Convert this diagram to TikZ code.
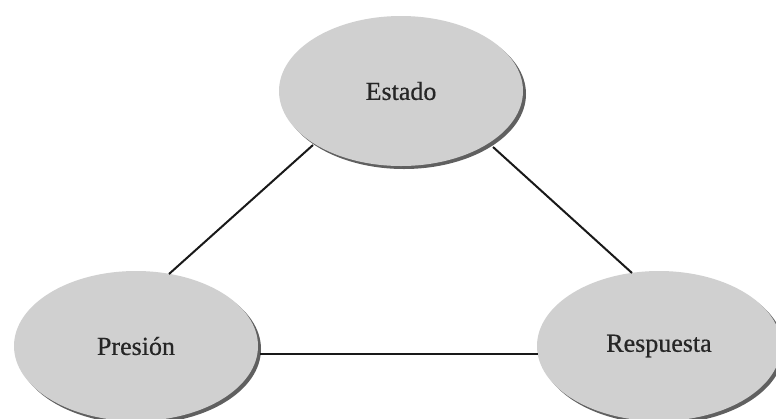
\documentclass[tikz,border=0pt]{standalone}
\usepackage{fontspec}
\setmainfont{Liberation Serif}[FakeBold=0.6]
\usetikzlibrary{shapes.geometric}
\definecolor{ellfill}{HTML}{D0D0D0}
\definecolor{ellshadow}{HTML}{606060}
\tikzset{
  stateell/.style={ellipse, fill=ellfill, minimum width=#1, minimum height=150pt, inner sep=0pt,
    font=\fontsize{26}{30}\selectfont, text=black!85},
  shadowell/.style={ellipse, fill=ellshadow, minimum width=#1, minimum height=150pt, inner sep=0pt},
  link/.style={line width=2pt, black!90}
}
\begin{document}
\begin{tikzpicture}[x=1pt,y=-1pt]
\useasboundingbox (0,0) rectangle (776,418);
\fill[white] (0,0) rectangle (776,418);
% shadows
\node[shadowell=244pt] at (404,94) {};
\node[shadowell=244pt] at (139,349) {};
\node[shadowell=244pt] at (662,349) {};
% ellipses
\node[stateell=244pt] (estado) at (401,91) {Estado};
\node[stateell=244pt] (presion) at (136,346) {Presión};
\node[stateell=244pt] (respuesta) at (659,346) {Respuesta};
% connectors
\coordinate (e1) at (313,145);
\coordinate (e2) at (493,147);
\coordinate (p1) at (169,274);
\coordinate (p2) at (260,354);
\coordinate (r1) at (632,273);
\coordinate (r2) at (538,354);
\draw[link] (e1) -- (p1);
\draw[link] (e2) -- (r1);
\draw[link] (p2) -- (r2);
\end{tikzpicture}
\end{document}
